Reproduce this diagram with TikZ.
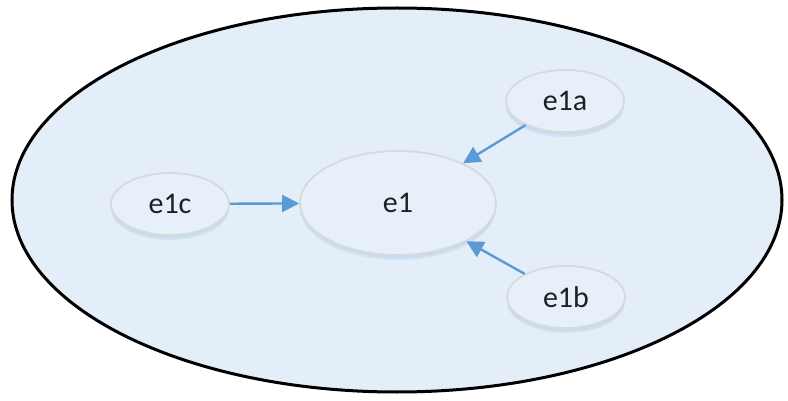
\documentclass[tikz,border=0pt]{standalone}
\usepackage{fontspec}
\setmainfont{Carlito}
\usetikzlibrary{shapes.geometric,arrows.meta,shadows}
\definecolor{bgfill}{HTML}{E4EEF9}
\definecolor{nodefill}{HTML}{E7F0FA}
\definecolor{nodeline}{HTML}{D9D9D9}
\definecolor{arrowcol}{HTML}{5B9BD5}
\definecolor{shadowcol}{HTML}{C6DAF0}
\tikzset{
  ent/.style={ellipse, draw=nodeline, line width=1.8pt, fill=nodefill,
    inner sep=0pt, font=\fontsize{30}{32}\selectfont, text=black!88,
    general shadow={fill=shadowcol, shadow yshift=-5pt, shadow scale=1.0, opacity=0.6},
    general shadow={fill=shadowcol, shadow yshift=-3pt, shadow scale=1.0, opacity=0.8}},
  conn/.style={draw=arrowcol, line width=2.4pt, -{Triangle[length=17pt,width=17pt]}}
}
\begin{document}
\begin{tikzpicture}[x=1pt,y=-1pt]
\useasboundingbox (0,0) rectangle (788,401);
\node[ellipse, draw=black, line width=3pt, fill=bgfill, minimum width=770pt, minimum height=384pt, inner sep=0pt] (outer) at (397,200) {};
\node[ent, minimum width=196pt, minimum height=104pt] (e1) at (398,203) {e1};
\node[ent, minimum width=118pt, minimum height=62pt] (e1a) at (565,101) {e1a};
\node[ent, minimum width=118pt, minimum height=62pt] (e1c) at (170,204) {e1c};
\node[ent, minimum width=118pt, minimum height=62pt] (e1b) at (566,297) {e1b};
\draw[conn] (e1c) -- (e1);
\draw[conn] (e1a) -- (e1);
\draw[conn] (e1b) -- (e1);
\end{tikzpicture}
\end{document}
